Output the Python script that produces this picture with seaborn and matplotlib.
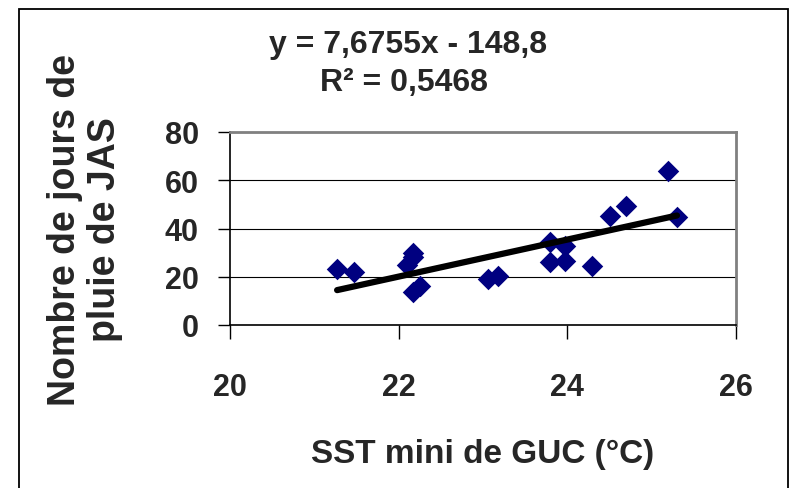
import matplotlib
matplotlib.use("Agg")
import matplotlib.pyplot as plt
import matplotlib.patches as mpatches
import seaborn as sns
import numpy as np

# ---- data ----
sst = [21.27, 21.47, 22.10, 22.17, 22.17, 22.17, 22.25, 23.06, 23.18,
       23.80, 23.97, 23.79, 23.97, 24.29, 24.50, 24.70, 25.19, 25.30]
rain_days = [23.2, 22.0, 25.0, 29.8, 28.0, 13.5, 16.3, 19.1, 20.4,
             34.3, 32.9, 26.0, 26.7, 24.6, 45.3, 49.2, 64.0, 44.9]
slope = 7.6755
intercept = -148.8
r2_text = "0,5468"
x_ticks = [20, 22, 24, 26]
y_ticks = [0, 20, 40, 60, 80]
x_label = "SST mini de GUC (°C)"
y_label = "Nombre de jours de\npluie de JAS"
eq_text = "y = 7,6755x - 148,8"

sns.set_theme(style="white")
plt.rcParams['font.family'] = ['Liberation Sans', 'DejaVu Sans']
plt.rcParams['font.weight'] = 'bold'

W, H = 790, 489
fig = plt.figure(figsize=(W / 100, H / 100), dpi=100)
fig.patch.set_facecolor('white')

ax = fig.add_axes([230 / W, 1 - 326 / H, 506 / W, 193 / H])
ax.set_facecolor('white')

# trend line
x_fit = np.array([min(sst), max(sst)])
y_fit = slope * x_fit + intercept

sns.scatterplot(x=sst, y=rain_days, marker='D', s=120, color='#000080',
                linewidth=0, ax=ax, zorder=3)
sns.lineplot(x=x_fit, y=y_fit, color='black', linewidth=4.5, ax=ax,
             zorder=4, solid_capstyle='round')

ax.set_xlim(20, 26)
ax.set_ylim(0, 80)
ax.set_xticks(x_ticks)
ax.set_yticks(y_ticks)
ax.set_xticklabels([str(t) for t in x_ticks], fontsize=22, fontweight='bold')
ax.set_yticklabels([str(t) for t in y_ticks], fontsize=22, fontweight='bold')

ax.yaxis.grid(True, color='black', linewidth=0.8)
ax.xaxis.grid(False)
ax.set_axisbelow(True)

ax.tick_params(axis='x', direction='out', length=10, width=1, color='black',
               pad=24, bottom=True)
ax.tick_params(axis='y', direction='out', length=8.5, width=1, color='black',
               pad=14, left=True)

for side in ['top', 'right']:
    ax.spines[side].set_color('#808080')
    ax.spines[side].set_linewidth(2)
for side in ['left', 'bottom']:
    ax.spines[side].set_color('black')
    ax.spines[side].set_linewidth(1.2)

ax.set_xlabel(x_label, fontsize=24, fontweight='bold')
ax.xaxis.set_label_coords(0.5, (326 - 455) / 193)
ax.xaxis.label.set_va('center')

ax.set_ylabel(y_label, fontsize=27, fontweight='bold', multialignment='center',
              linespacing=1.15)
ax.yaxis.set_label_coords((85 - 230) / 506, (326 - 230) / 193)
ax.yaxis.label.set_va('center')

fig.text(408 / W, 1 - 45 / H, eq_text, ha='center', va='center',
         fontsize=23, fontweight='bold')
fig.text(404 / W, 1 - 83 / H, "R² = " + r2_text, ha='center', va='center',
         fontsize=23, fontweight='bold')

# chart-area border
border = mpatches.Rectangle((19 / W, -0.1), (788 - 19) / W, 1.1 - 10 / H,
                            transform=fig.transFigure, fill=False,
                            edgecolor='black', linewidth=1.3, clip_on=False)
fig.patches.append(border)

fig.savefig("out.png", dpi=100)
